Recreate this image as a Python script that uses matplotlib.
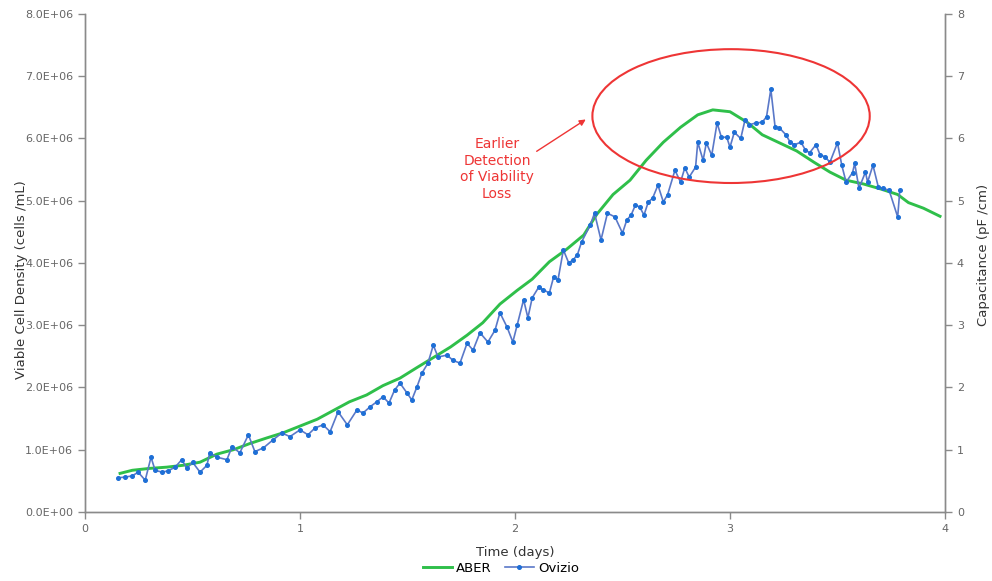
import numpy as np
import matplotlib
matplotlib.use("Agg")
import matplotlib.pyplot as plt
from matplotlib.patches import Ellipse
from matplotlib.ticker import FuncFormatter

# Ovizio - viable cell density (x1e6 cells/mL)
ovizio_t = [0.153, 0.186, 0.22, 0.247, 0.28, 0.307, 0.326, 0.358, 0.386, 0.419,
            0.45, 0.474, 0.50, 0.535, 0.567, 0.58, 0.614, 0.66, 0.684, 0.72,
            0.76, 0.79, 0.83, 0.875, 0.916, 0.953, 1.0, 1.037, 1.07, 1.107,
            1.14, 1.177, 1.22, 1.265, 1.293, 1.326, 1.357, 1.386, 1.414, 1.44,
            1.465, 1.498, 1.52, 1.544, 1.567, 1.595, 1.62, 1.642, 1.684, 1.71,
            1.744, 1.777, 1.805, 1.837, 1.874, 1.907, 1.93, 1.963, 1.99, 2.01,
            2.04, 2.06, 2.08, 2.11, 2.13, 2.16, 2.18, 2.20, 2.225, 2.25,
            2.27, 2.29, 2.31, 2.35, 2.37, 2.40, 2.43, 2.465, 2.50, 2.52,
            2.54, 2.56, 2.58, 2.60, 2.62, 2.64, 2.665, 2.69, 2.71, 2.744,
            2.77, 2.79, 2.81, 2.84, 2.85, 2.875, 2.89, 2.915, 2.94, 2.96,
            2.985, 3.0, 3.02, 3.05, 3.07, 3.09, 3.12, 3.15, 3.17, 3.19,
            3.21, 3.23, 3.26, 3.28, 3.30, 3.33, 3.35, 3.37, 3.40, 3.42,
            3.44, 3.465, 3.50, 3.52, 3.54, 3.57, 3.58, 3.60, 3.63, 3.64,
            3.665, 3.69, 3.71, 3.74, 3.78, 3.79]
ovizio_v = [0.55, 0.56, 0.58, 0.64, 0.51, 0.88, 0.67, 0.64, 0.66, 0.72,
            0.84, 0.70, 0.80, 0.64, 0.75, 0.95, 0.88, 0.84, 1.05, 0.95,
            1.24, 0.97, 1.03, 1.16, 1.27, 1.21, 1.32, 1.24, 1.35, 1.40,
            1.29, 1.61, 1.40, 1.64, 1.59, 1.69, 1.77, 1.85, 1.75, 1.96,
            2.07, 1.91, 1.80, 2.01, 2.23, 2.39, 2.68, 2.49, 2.52, 2.44,
            2.39, 2.71, 2.60, 2.88, 2.73, 2.92, 3.20, 2.97, 2.73, 3.00,
            3.41, 3.12, 3.44, 3.61, 3.57, 3.52, 3.78, 3.73, 4.21, 4.00,
            4.05, 4.13, 4.34, 4.61, 4.80, 4.37, 4.80, 4.74, 4.48, 4.69,
            4.77, 4.93, 4.90, 4.77, 4.98, 5.04, 5.25, 4.98, 5.10, 5.49,
            5.30, 5.53, 5.38, 5.54, 5.94, 5.65, 5.93, 5.73, 6.25, 6.02,
            6.02, 5.86, 6.10, 6.00, 6.30, 6.22, 6.25, 6.26, 6.35, 6.79,
            6.18, 6.17, 6.06, 5.94, 5.90, 5.94, 5.82, 5.77, 5.90, 5.73,
            5.71, 5.62, 5.93, 5.57, 5.30, 5.45, 5.60, 5.20, 5.46, 5.30,
            5.57, 5.22, 5.20, 5.17, 4.74, 5.17]

# ABER - capacitance (pF/cm)
aber_t = [0.163, 0.22, 0.30, 0.38, 0.456, 0.535, 0.614, 0.69, 0.767, 0.846,
          0.92, 1.0, 1.08, 1.155, 1.23, 1.31, 1.386, 1.465, 1.544, 1.62,
          1.70, 1.777, 1.85, 1.93, 2.01, 2.08, 2.16, 2.24, 2.32, 2.38,
          2.456, 2.535, 2.61, 2.69, 2.77, 2.85, 2.92, 3.0, 3.08, 3.15,
          3.23, 3.31, 3.39, 3.465, 3.54, 3.62, 3.70, 3.78, 3.83, 3.90, 3.977]
aber_v = [0.62, 0.67, 0.70, 0.72, 0.75, 0.80, 0.93, 1.00, 1.10, 1.19,
          1.27, 1.38, 1.49, 1.63, 1.77, 1.88, 2.03, 2.15, 2.32, 2.48,
          2.65, 2.84, 3.04, 3.34, 3.56, 3.74, 4.02, 4.22, 4.45, 4.78,
          5.10, 5.33, 5.65, 5.94, 6.18, 6.38, 6.46, 6.43, 6.26, 6.06,
          5.93, 5.80, 5.62, 5.46, 5.33, 5.27, 5.19, 5.10, 4.97, 4.88, 4.75]

spine_c = '#8a8a8a'
tick_c = '#666666'

fig = plt.figure(figsize=(9.92, 5.81), dpi=100)
ax = fig.add_axes([0.0857, 0.1188, 0.8669, 0.8571])
ax2 = ax.twinx()

ax2.plot(aber_t, aber_v, color='#2fbf4a', lw=2.1, label='ABER')
ax.plot(ovizio_t, np.array(ovizio_v) * 1e6, color='#5a78c8', lw=1.2,
        marker='o', ms=2.6, mfc='#1e6fd6', mec='#1e6fd6', label='Ovizio')

ax.set_zorder(ax2.get_zorder() + 1)
ax.patch.set_visible(False)

ax.set_xlim(0, 4)
ax.set_ylim(0, 8e6)
ax2.set_ylim(0, 8)
ax.set_xticks([0, 1, 2, 3, 4])
ax.set_yticks(np.arange(0, 8.1e6, 1e6))
ax2.set_yticks(range(9))
ax.yaxis.set_major_formatter(FuncFormatter(lambda v, p: f"{v:.1E}"))

for a in (ax, ax2):
    a.spines['top'].set_visible(False)
    for s in ('left', 'right', 'bottom'):
        a.spines[s].set_color(spine_c)
        a.spines[s].set_linewidth(1.0)
    a.tick_params(colors=spine_c, labelcolor=tick_c, labelsize=8,
                  length=5, width=1, direction='out')

ax.set_xlabel('Time (days)', fontsize=9.5, color='#333333')
ax.xaxis.set_label_coords(0.5, -0.068)
ax.set_ylabel('Viable Cell Density (cells /mL)', fontsize=9.5, color='#333333')
ax.yaxis.set_label_coords(-0.066, 0.466)
ax2.set_ylabel('Capacitance (pF /cm)', fontsize=9.5, color='#333333')
ax2.yaxis.set_label_coords(1.037, 0.516)

# highlight of the peak region
ell = Ellipse((3.005, 6.36e6), 1.29, 2.15e6, fill=False,
              edgecolor='#ee3535', lw=1.5, zorder=5)
ax.add_patch(ell)
ax.annotate('', xy=(2.34, 6.33e6), xytext=(2.09, 5.77e6),
            arrowprops=dict(arrowstyle='-|>', color='#ee3535', lw=1.0,
                            mutation_scale=9))
ax.text(1.916, 5.51e6, 'Earlier\nDetection\nof Viability\nLoss', color='#ee3535',
        fontsize=10, ha='center', va='center', linespacing=1.25)

h1, l1 = ax2.get_legend_handles_labels()
h2, l2 = ax.get_legend_handles_labels()
fig.legend(h1 + h2, l1 + l2, loc='center', bbox_to_anchor=(0.505, 0.022),
           ncol=2, frameon=False, fontsize=9.5, handlelength=2.2,
           columnspacing=1.0, handletextpad=0.3, borderpad=0)

fig.savefig('out.png', dpi=100)
